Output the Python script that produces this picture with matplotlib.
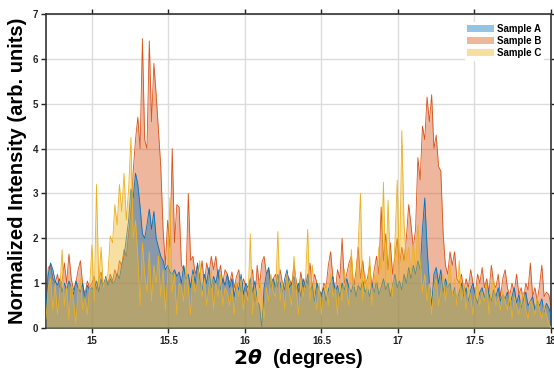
import numpy as np
import matplotlib.pyplot as plt

# 2theta grid: 14.70 .. 18.00 deg, 0.015 deg step (221 points)
theta_start = 14.7
theta_step = 0.015

sample_a = [
    0.4, 1.2, 1.45, 1.3, 1.05, 0.95, 1.1, 0.8, 1.0, 0.85, 1.05, 0.9, 0.75, 1.05, 0.9, 0.8, 1.0, 0.6, 0.95, 0.85,
    0.9, 0.85, 1.05, 0.8, 1.1, 0.9, 1.15, 0.95, 1.1, 1.0, 1.05, 1.2, 1.1, 1.4, 1.6, 2.0, 2.4, 3.1, 2.9, 3.45,
    3.2, 2.7, 2.1, 2.0, 2.3, 2.65, 2.2, 2.6, 2.0, 1.8, 1.6, 1.5, 1.3, 1.4, 1.25, 1.2, 1.3, 1.15, 1.25, 1.0,
    1.4, 1.1, 1.2, 0.9, 1.3, 1.0, 1.45, 1.1, 0.8, 1.2, 1.0, 1.35, 0.9, 1.15, 1.0, 1.3, 0.85, 1.1, 0.95, 1.2,
    0.9, 1.1, 0.7, 1.0, 0.85, 1.2, 0.75, 1.0, 0.9, 1.1, 0.8, 1.05, 0.6, 0.5, 0.0, 0.9, 1.2, 1.35, 1.0, 1.1,
    0.9, 1.2, 1.0, 0.8, 1.1, 1.3, 0.9, 1.0, 1.15, 0.85, 1.0, 0.7, 1.1, 0.9, 1.2, 0.8, 0.95, 0.6, 1.0, 0.85,
    0.75, 0.9, 0.6, 0.85, 1.0, 1.15, 0.8, 0.95, 0.7, 1.0, 0.85, 1.1, 0.9, 0.8, 1.0, 0.7, 0.95, 0.85, 1.05, 0.8,
    0.9, 0.7, 1.0, 0.8, 1.05, 0.75, 0.9, 1.1, 0.85, 1.0, 0.7, 0.95, 1.2, 0.9, 1.05, 0.85, 1.2, 1.0, 1.35, 1.1,
    1.4, 1.2, 1.5, 1.3, 2.2, 2.9, 1.8, 1.0, 0.5, 1.2, 1.35, 1.0, 1.3, 0.8, 1.1, 0.9, 1.0, 0.7, 0.9, 0.6,
    0.8, 1.0, 0.7, 0.9, 0.6, 0.85, 1.0, 0.7, 0.55, 0.8, 0.9, 0.65, 1.0, 0.75, 0.6, 0.85, 0.7, 0.9, 0.6, 0.75,
    0.65, 0.8, 0.5, 0.7, 0.9, 0.55, 0.75, 0.45, 0.65, 0.8, 0.5, 0.6, 0.7, 0.4, 0.6, 0.5, 0.65, 0.35, 0.55, 0.45,
    0.3,
]

sample_b = [
    0.5, 1.35, 1.4, 1.1, 1.0, 1.2, 0.9, 1.05, 1.45, 1.0, 1.65, 1.1, 0.85, 1.0, 1.3, 1.5, 0.95, 0.75, 1.05, 0.9,
    1.0, 1.15, 0.85, 1.1, 1.25, 0.95, 1.1, 1.0, 1.2, 1.05, 1.3, 1.15, 1.5, 1.4, 1.75, 1.6, 2.1, 2.6, 3.5, 4.2,
    4.7, 4.0, 6.45, 4.2, 4.0, 6.4, 4.6, 5.9, 5.2, 4.4, 3.6, 2.2, 1.4, 2.4, 1.8, 4.0, 1.9, 2.75, 2.7, 1.4,
    1.3, 1.1, 3.0, 1.5, 1.6, 1.2, 1.4, 1.1, 1.5, 1.0, 1.45, 1.2, 1.6, 1.3, 1.6, 1.1, 1.4, 1.0, 1.3, 1.2,
    1.0, 1.25, 0.9, 1.15, 1.3, 0.8, 1.1, 0.95, 0.7, 1.05, 1.3, 0.6, 1.4, 0.9, 1.45, 1.6, 1.2, 1.3, 0.9, 1.1,
    1.2, 0.9, 1.3, 1.0, 0.85, 1.2, 1.1, 0.95, 1.4, 1.05, 0.8, 1.25, 0.9, 1.1, 1.0, 1.45, 0.9, 1.2, 1.0, 0.85,
    0.7, 1.0, 0.9, 1.4, 1.7, 1.1, 0.8, 1.3, 1.1, 2.0, 1.0, 1.2, 1.45, 1.6, 0.9, 1.25, 1.8, 1.1, 1.5, 1.0,
    1.1, 1.4, 0.9, 1.3, 1.6, 1.2, 2.7, 1.5, 2.1, 1.3, 1.9, 1.2, 1.6, 2.0, 1.4, 1.8, 1.5, 2.0, 2.75, 2.3,
    1.8, 2.2, 3.8, 3.3, 4.5, 4.2, 5.15, 4.6, 5.2, 4.0, 4.3, 3.6, 3.5, 2.1, 1.4, 1.2, 1.7, 1.4, 1.7, 1.1,
    1.0, 1.2, 0.8, 1.1, 0.9, 1.3, 1.0, 0.75, 1.2, 1.0, 1.35, 0.9, 1.1, 0.8, 1.4, 1.0, 0.9, 1.2, 0.7, 1.1,
    1.3, 0.9, 0.7, 1.0, 0.8, 1.2, 0.75, 0.9, 0.6, 1.0, 0.85, 1.45, 0.7, 0.9, 0.6, 0.95, 1.4, 0.7, 0.8, 0.75,
    0.5,
]

sample_c = [
    0.2, 0.9, 1.1, 0.4, 1.0, 0.3, 0.8, 1.75, 0.5, 0.9, 0.2, 1.0, 0.6, 0.1, 0.85, 1.1, 0.4, 0.7, 0.3, 0.9,
    1.85, 0.6, 3.2, 1.0, 1.8, 0.9, 1.1, 1.2, 2.05, 1.9, 2.75, 2.3, 3.2, 2.6, 3.45, 2.4, 3.1, 4.25, 2.0, 2.4,
    1.6, 0.5, 1.9, 1.2, 0.8, 1.7, 0.6, 1.4, 1.0, 1.6, 0.7, 1.3, 0.4, 1.1, 2.9, 0.8, 1.2, 0.3, 1.0, 0.9,
    0.6, 1.4, 0.9, 0.3, 1.2, 0.8, 1.0, 1.5, 0.7, 1.1, 0.5, 0.9, 1.3, 0.4, 1.0, 0.7, 1.2, 0.5, 0.9, 0.8,
    0.5, 0.9, 0.3, 1.0, 0.7, 1.1, 0.4, 0.8, 0.6, 2.1, 0.3, 0.9, 0.5, 1.1, 0.7, 0.2, 0.9, 0.6, 1.2, 0.8,
    0.7, 2.15, 0.6, 1.0, 0.4, 1.2, 0.8, 0.5, 1.6, 0.9, 0.3, 1.1, 0.7, 1.0, 2.2, 0.6, 1.4, 0.8, 0.4, 1.0,
    0.3, 0.8, 1.0, 0.5, 1.2, 0.7, 0.9, 0.3, 1.1, 0.6, 1.3, 0.8, 0.5, 1.75, 0.9, 1.0, 1.85, 3.0, 0.6, 1.2,
    0.8, 1.6, 0.5, 1.2, 1.0, 1.8, 1.3, 3.25, 1.0, 2.85, 1.4, 0.7, 1.9, 3.3, 1.2, 4.4, 2.3, 1.5, 1.8, 1.2,
    1.9, 1.3, 2.3, 1.5, 0.8, 1.2, 0.6, 1.0, 0.3, 0.9, 1.1, 0.5, 0.8, 1.2, 0.6, 1.0, 1.4, 0.7, 1.1, 0.5,
    1.5, 0.6, 1.0, 0.4, 0.9, 0.7, 0.3, 0.8, 1.0, 0.5, 0.8, 0.6, 1.0, 0.3, 0.9, 1.1, 0.5, 0.7, 0.4, 0.8,
    0.6, 0.4, 0.8, 0.2, 0.7, 0.5, 0.3, 0.6, 0.8, 0.4, 0.2, 0.6, 0.5, 0.3, 0.7, 0.4, 0.2, 0.5, 0.3, 0.1,
    0.0,
]

labels = ["Sample A", "Sample B", "Sample C"]
colors = ["#0072BD", "#D95319", "#EDB120"]

two_theta = theta_start + theta_step * np.arange(len(sample_a))

plt.rcParams["font.family"] = ["Liberation Sans", "DejaVu Sans"]
fig = plt.figure(figsize=(5.54, 3.75), dpi=100)
ax = fig.add_axes([0.083, 0.1253, 0.9116, 0.8373])

series = [sample_a, sample_b, sample_c]
zorders = [3, 2, 4]
handles = []
for vals, lab, col, z in zip(series, labels, colors, zorders):
    h = ax.fill_between(two_theta, 0, vals, color=col, alpha=0.42, lw=0, zorder=z, label=lab)
    ax.plot(two_theta, vals, color=col, lw=0.6, zorder=z)
    handles.append(h)

ax.set_xlim(14.7, 18.0)
ax.set_ylim(0, 7)
ax.set_xticks([15, 15.5, 16, 16.5, 17, 17.5, 18])
ax.set_xticklabels(["15", "15.5", "16", "16.5", "17", "17.5", "18"])
ax.set_yticks(range(0, 8))
ax.grid(True, color="#dcdcdc", lw=1.0, zorder=0)
ax.set_axisbelow(True)

ax.tick_params(direction="out", length=3.5, width=1.0, top=True, right=True,
               labelsize=7, colors="#222222", pad=2)
for lbl in ax.get_xticklabels() + ax.get_yticklabels():
    lbl.set_fontweight("bold")
for sp in ax.spines.values():
    sp.set_linewidth(1.2)
    sp.set_color("#333333")

ax.set_xlabel(r"$\mathbf{2}\boldsymbol{\theta}$  (degrees)", fontsize=14.5, fontweight="bold", labelpad=1)
ax.set_ylabel("Normalized Intensity (arb. units)", fontsize=14.5, fontweight="bold", labelpad=4)

leg = ax.legend(handles=handles, loc="upper right", bbox_to_anchor=(0.984, 0.975),
                fontsize=7, frameon=True, edgecolor="white", framealpha=1.0,
                handlelength=2.7, handleheight=0.8, labelspacing=0.2,
                handletextpad=0.3, borderaxespad=0.0, borderpad=0.2)
for t in leg.get_texts():
    t.set_fontweight("bold")
leg.set_zorder(10)

fig.savefig("out.png", dpi=100)
